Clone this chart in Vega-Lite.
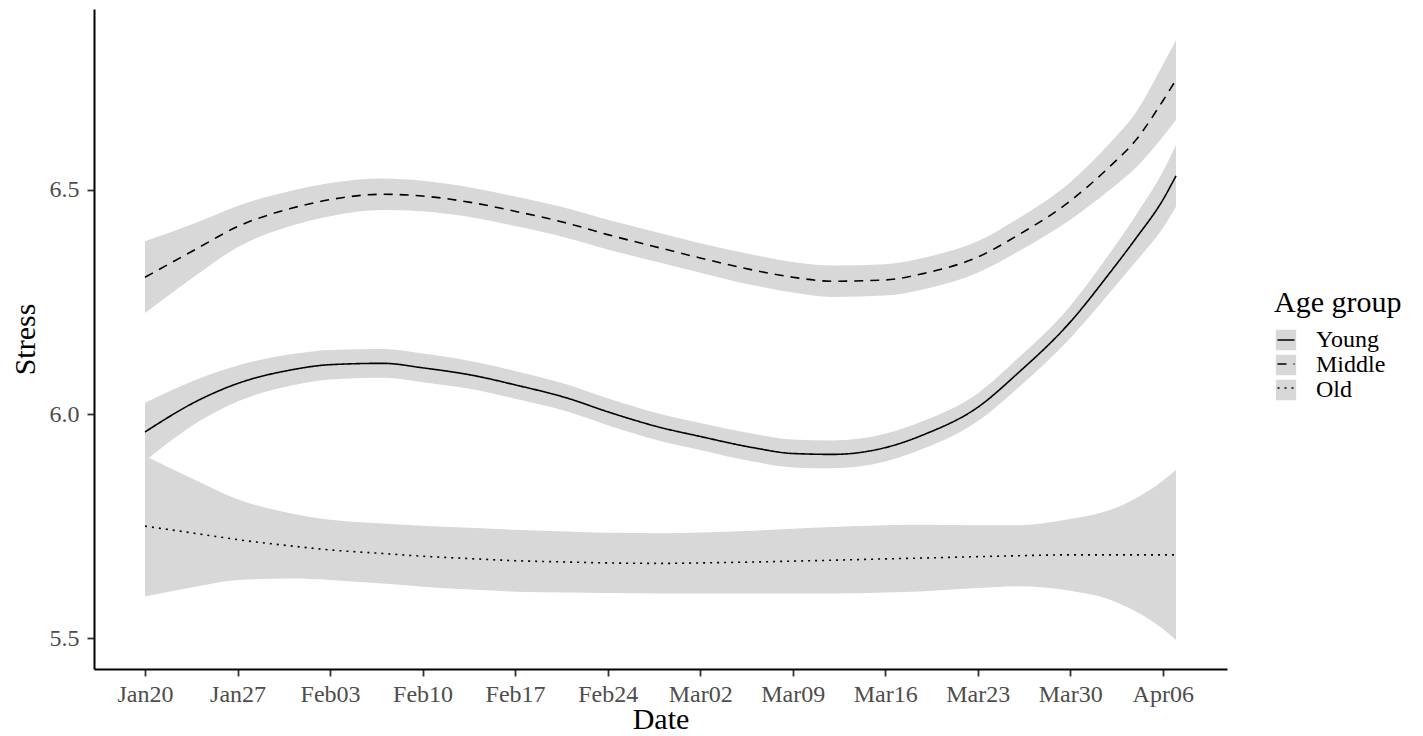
{
  "$schema": "https://vega.github.io/schema/vega-lite/v6.json",
  "width": 1133,
  "height": 660,
  "autosize": {"type": "none"},
  "padding": {"left": 94, "top": 9, "right": 196, "bottom": 67},
  "background": "white",
  "data": {
    "values": [
      {"date": "2020-01-20", "group": "Young", "fit": 5.960, "lower": 5.895, "upper": 6.025},
      {"date": "2020-01-24", "group": "Young", "fit": 6.030, "lower": 5.982, "upper": 6.078},
      {"date": "2020-01-27", "group": "Young", "fit": 6.068, "lower": 6.028, "upper": 6.108},
      {"date": "2020-01-31", "group": "Young", "fit": 6.098, "lower": 6.063, "upper": 6.133},
      {"date": "2020-02-03", "group": "Young", "fit": 6.110, "lower": 6.077, "upper": 6.143},
      {"date": "2020-02-07", "group": "Young", "fit": 6.113, "lower": 6.081, "upper": 6.145},
      {"date": "2020-02-10", "group": "Young", "fit": 6.103, "lower": 6.071, "upper": 6.135},
      {"date": "2020-02-14", "group": "Young", "fit": 6.085, "lower": 6.054, "upper": 6.116},
      {"date": "2020-02-17", "group": "Young", "fit": 6.065, "lower": 6.034, "upper": 6.096},
      {"date": "2020-02-21", "group": "Young", "fit": 6.035, "lower": 6.005, "upper": 6.065},
      {"date": "2020-02-24", "group": "Young", "fit": 6.005, "lower": 5.975, "upper": 6.035},
      {"date": "2020-02-28", "group": "Young", "fit": 5.970, "lower": 5.940, "upper": 6.000},
      {"date": "2020-03-02", "group": "Young", "fit": 5.950, "lower": 5.920, "upper": 5.980},
      {"date": "2020-03-06", "group": "Young", "fit": 5.925, "lower": 5.894, "upper": 5.956},
      {"date": "2020-03-09", "group": "Young", "fit": 5.912, "lower": 5.881, "upper": 5.943},
      {"date": "2020-03-12", "group": "Young", "fit": 5.910, "lower": 5.879, "upper": 5.941},
      {"date": "2020-03-16", "group": "Young", "fit": 5.925, "lower": 5.894, "upper": 5.956},
      {"date": "2020-03-19", "group": "Young", "fit": 5.955, "lower": 5.924, "upper": 5.986},
      {"date": "2020-03-23", "group": "Young", "fit": 6.015, "lower": 5.984, "upper": 6.046},
      {"date": "2020-03-26", "group": "Young", "fit": 6.090, "lower": 6.057, "upper": 6.123},
      {"date": "2020-03-30", "group": "Young", "fit": 6.205, "lower": 6.169, "upper": 6.241},
      {"date": "2020-04-02", "group": "Young", "fit": 6.315, "lower": 6.271, "upper": 6.359},
      {"date": "2020-04-04", "group": "Young", "fit": 6.393, "lower": 6.341, "upper": 6.445},
      {"date": "2020-04-06", "group": "Young", "fit": 6.477, "lower": 6.414, "upper": 6.540},
      {"date": "2020-04-07", "group": "Young", "fit": 6.531, "lower": 6.462, "upper": 6.600},

      {"date": "2020-01-20", "group": "Middle", "fit": 6.305, "lower": 6.225, "upper": 6.385},
      {"date": "2020-01-24", "group": "Middle", "fit": 6.370, "lower": 6.312, "upper": 6.428},
      {"date": "2020-01-27", "group": "Middle", "fit": 6.418, "lower": 6.372, "upper": 6.464},
      {"date": "2020-01-31", "group": "Middle", "fit": 6.458, "lower": 6.419, "upper": 6.497},
      {"date": "2020-02-03", "group": "Middle", "fit": 6.478, "lower": 6.441, "upper": 6.515},
      {"date": "2020-02-07", "group": "Middle", "fit": 6.490, "lower": 6.455, "upper": 6.525},
      {"date": "2020-02-10", "group": "Middle", "fit": 6.486, "lower": 6.452, "upper": 6.520},
      {"date": "2020-02-14", "group": "Middle", "fit": 6.470, "lower": 6.437, "upper": 6.503},
      {"date": "2020-02-17", "group": "Middle", "fit": 6.452, "lower": 6.419, "upper": 6.485},
      {"date": "2020-02-21", "group": "Middle", "fit": 6.425, "lower": 6.392, "upper": 6.458},
      {"date": "2020-02-24", "group": "Middle", "fit": 6.400, "lower": 6.367, "upper": 6.433},
      {"date": "2020-02-28", "group": "Middle", "fit": 6.370, "lower": 6.337, "upper": 6.403},
      {"date": "2020-03-02", "group": "Middle", "fit": 6.348, "lower": 6.315, "upper": 6.381},
      {"date": "2020-03-06", "group": "Middle", "fit": 6.321, "lower": 6.287, "upper": 6.355},
      {"date": "2020-03-09", "group": "Middle", "fit": 6.305, "lower": 6.271, "upper": 6.339},
      {"date": "2020-03-12", "group": "Middle", "fit": 6.296, "lower": 6.261, "upper": 6.331},
      {"date": "2020-03-16", "group": "Middle", "fit": 6.299, "lower": 6.264, "upper": 6.334},
      {"date": "2020-03-19", "group": "Middle", "fit": 6.314, "lower": 6.279, "upper": 6.349},
      {"date": "2020-03-23", "group": "Middle", "fit": 6.350, "lower": 6.315, "upper": 6.385},
      {"date": "2020-03-26", "group": "Middle", "fit": 6.398, "lower": 6.361, "upper": 6.435},
      {"date": "2020-03-30", "group": "Middle", "fit": 6.475, "lower": 6.433, "upper": 6.517},
      {"date": "2020-04-02", "group": "Middle", "fit": 6.552, "lower": 6.500, "upper": 6.604},
      {"date": "2020-04-04", "group": "Middle", "fit": 6.612, "lower": 6.550, "upper": 6.674},
      {"date": "2020-04-06", "group": "Middle", "fit": 6.698, "lower": 6.618, "upper": 6.778},
      {"date": "2020-04-07", "group": "Middle", "fit": 6.745, "lower": 6.656, "upper": 6.834},

      {"date": "2020-01-20", "group": "Old", "fit": 5.750, "lower": 5.593, "upper": 5.907},
      {"date": "2020-01-24", "group": "Old", "fit": 5.733, "lower": 5.616, "upper": 5.850},
      {"date": "2020-01-27", "group": "Old", "fit": 5.720, "lower": 5.630, "upper": 5.810},
      {"date": "2020-01-31", "group": "Old", "fit": 5.706, "lower": 5.633, "upper": 5.779},
      {"date": "2020-02-03", "group": "Old", "fit": 5.697, "lower": 5.630, "upper": 5.764},
      {"date": "2020-02-07", "group": "Old", "fit": 5.689, "lower": 5.622, "upper": 5.756},
      {"date": "2020-02-10", "group": "Old", "fit": 5.683, "lower": 5.615, "upper": 5.751},
      {"date": "2020-02-14", "group": "Old", "fit": 5.677, "lower": 5.608, "upper": 5.746},
      {"date": "2020-02-17", "group": "Old", "fit": 5.673, "lower": 5.604, "upper": 5.742},
      {"date": "2020-02-21", "group": "Old", "fit": 5.670, "lower": 5.602, "upper": 5.738},
      {"date": "2020-02-24", "group": "Old", "fit": 5.668, "lower": 5.601, "upper": 5.735},
      {"date": "2020-02-28", "group": "Old", "fit": 5.667, "lower": 5.600, "upper": 5.734},
      {"date": "2020-03-02", "group": "Old", "fit": 5.668, "lower": 5.600, "upper": 5.736},
      {"date": "2020-03-06", "group": "Old", "fit": 5.670, "lower": 5.600, "upper": 5.740},
      {"date": "2020-03-09", "group": "Old", "fit": 5.672, "lower": 5.600, "upper": 5.744},
      {"date": "2020-03-12", "group": "Old", "fit": 5.674, "lower": 5.600, "upper": 5.748},
      {"date": "2020-03-16", "group": "Old", "fit": 5.677, "lower": 5.602, "upper": 5.752},
      {"date": "2020-03-19", "group": "Old", "fit": 5.679, "lower": 5.605, "upper": 5.753},
      {"date": "2020-03-23", "group": "Old", "fit": 5.682, "lower": 5.612, "upper": 5.752},
      {"date": "2020-03-26", "group": "Old", "fit": 5.684, "lower": 5.616, "upper": 5.752},
      {"date": "2020-03-30", "group": "Old", "fit": 5.686, "lower": 5.606, "upper": 5.766},
      {"date": "2020-04-02", "group": "Old", "fit": 5.686, "lower": 5.586, "upper": 5.786},
      {"date": "2020-04-04", "group": "Old", "fit": 5.686, "lower": 5.559, "upper": 5.813},
      {"date": "2020-04-06", "group": "Old", "fit": 5.686, "lower": 5.521, "upper": 5.851},
      {"date": "2020-04-07", "group": "Old", "fit": 5.686, "lower": 5.496, "upper": 5.876}
    ]
  },
  "encoding": {
    "x": {
      "field": "date",
      "type": "temporal",
      "title": "Date",
      "scale": {"type": "utc", "domain": [1579144896000, 1586551104000], "nice": false},
      "axis": {
        "format": "%b%d",
        "values": [1579478400000, 1580083200000, 1580688000000, 1581292800000, 1581897600000, 1582502400000, 1583107200000, 1583712000000, 1584316800000, 1584921600000, 1585526400000, 1586131200000],
        "labelPadding": 6,
        "titlePadding": -2,
        "labelFlush": false,
        "labelOverlap": false
      }
    }
  },
  "layer": [
    {
      "mark": {"type": "area", "interpolate": "monotone", "fill": "#D8D8D8"},
      "encoding": {
        "y": {
          "field": "lower",
          "type": "quantitative",
          "title": "Stress",
          "scale": {"domain": [5.4315, 6.903], "nice": false, "zero": false},
          "axis": {"values": [5.5, 6.0, 6.5], "format": ".1f", "labelPadding": 8, "titlePadding": 9}
        },
        "y2": {"field": "upper"},
        "fill": {
          "field": "group",
          "type": "nominal",
          "scale": {"domain": ["Young", "Middle", "Old"], "range": ["#D8D8D8", "#D8D8D8", "#D8D8D8"]},
          "legend": {
            "title": "Age group",
            "orient": "none",
            "legendX": 1180,
            "legendY": 279,
            "symbolType": "M-1.1,-1.1H1.1V1.1H-1.1Z",
            "symbolSize": 289,
            "symbolStrokeColor": "#D8D8D8",
            "symbolStrokeWidth": 1.6,
            "symbolOpacity": 1
          }
        }
      }
    },
    {
      "mark": {"type": "line", "interpolate": "monotone", "color": "black", "strokeWidth": 1.6},
      "encoding": {
        "y": {"field": "fit", "type": "quantitative"},
        "strokeDash": {
          "field": "group",
          "type": "nominal",
          "sort": ["Young", "Middle", "Old"],
          "scale": {"range": [[1, 0], [9, 7], [2, 5]]},
          "legend": {
            "title": " ",
            "orient": "none",
            "legendX": 1180,
            "legendY": 279,
            "symbolType": "stroke",
            "symbolSize": 289,
            "symbolStrokeColor": "black",
            "symbolStrokeWidth": 1.6,
            "labelExpr": "''"
          }
        }
      }
    }
  ],
  "config": {
    "view": {"stroke": null},
    "font": "Liberation Serif",
    "axis": {
      "grid": false,
      "domainColor": "black",
      "domainWidth": 2,
      "tickColor": "#333333",
      "tickWidth": 1.8,
      "tickSize": 7,
      "labelFont": "Liberation Serif",
      "labelFontSize": 24,
      "labelColor": "#4D4D4D",
      "titleFont": "Liberation Serif",
      "titleFontSize": 30,
      "titleColor": "black",
      "titleFontWeight": "normal"
    },
    "legend": {
      "padding": 0,
      "titleFont": "Liberation Serif",
      "titleFontSize": 30,
      "titleFontWeight": "normal",
      "titleColor": "black",
      "titlePadding": 10,
      "labelFont": "Liberation Serif",
      "labelFontSize": 24,
      "labelColor": "black",
      "labelOffset": 18,
      "rowPadding": -4
    }
  }
}
